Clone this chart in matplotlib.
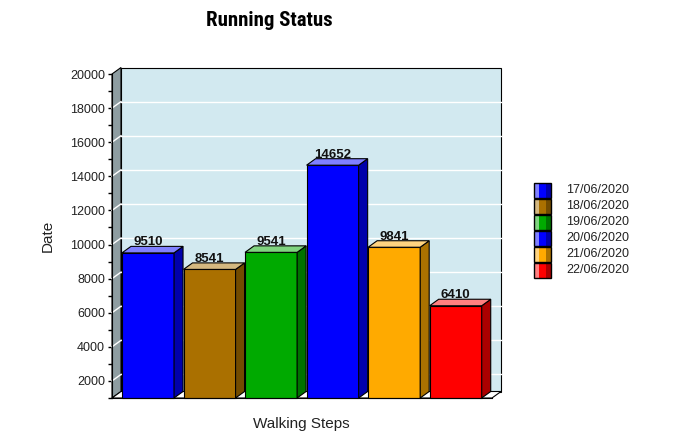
import numpy as np
import matplotlib
matplotlib.use('Agg')
import matplotlib.pyplot as plt
from matplotlib.patches import Polygon, Rectangle
from matplotlib.colors import to_rgb
from matplotlib import font_manager

# data
dates = ['17/06/2020', '18/06/2020', '19/06/2020', '20/06/2020', '21/06/2020', '22/06/2020']
steps = [9510, 8541, 9541, 14652, 9841, 6410]
colors = ['#0000FF', '#AA7000', '#00AA00', '#0000FF', '#FFAA00', '#FF0000']
yticks = np.arange(2000, 20001, 2000)
yminor = np.arange(1000, 20001, 1000)

W, H = 690, 446
ymin, ymax = 1000, 20000
xlo, xhi = -0.585, 5.59
bw = 0.846
dpx, dpy = 9, 6.5  # depth in pixels

plt.rcParams['font.family'] = ['Liberation Sans', 'DejaVu Sans']

# condensed face for the title if one is installed
names = {f.name for f in font_manager.fontManager.ttflist}
cond = [n for n in ['Roboto Condensed', 'Liberation Sans Narrow', 'DejaVu Sans Condensed',
                    'Open Sans Condensed'] if n in names]
title_family = cond[:1] + ['DejaVu Sans']

fig = plt.figure(figsize=(W / 100, H / 100), dpi=100)
fig.patch.set_facecolor('white')
# front plane of the 3d box in pixels: x 112..492, y 74..398
ax = fig.add_axes([112 / W, 1 - 398 / H, 380 / W, 324 / H])
ax.set_xlim(xlo, xhi)
ax.set_ylim(ymin, ymax)
ax.set_facecolor('none')

# depth offsets in data units
ddx = dpx * (xhi - xlo) / 380
ddy = dpy * (ymax - ymin) / 324


def light(c, f=0.5):
    r = np.array(to_rgb(c))
    return tuple(r + (1 - r) * f)


def dark(c, f=0.67):
    return tuple(np.array(to_rgb(c)) * f)


def poly(pts, fc, ec='black', lw=0.8, z=1):
    ax.add_patch(Polygon(pts, closed=True, facecolor=fc, edgecolor=ec,
                         linewidth=lw, zorder=z, clip_on=False))


# back wall
poly([(xlo + ddx, ymin + ddy), (xhi + ddx, ymin + ddy),
      (xhi + ddx, ymax + ddy), (xlo + ddx, ymax + ddy)], '#D2E9F0', z=1)
# left wall
poly([(xlo, ymin), (xlo + ddx, ymin + ddy), (xlo + ddx, ymax + ddy), (xlo, ymax)],
     '#8E9DA1', z=1)
# floor
poly([(xlo, ymin), (xhi, ymin), (xhi + ddx, ymin + ddy), (xlo + ddx, ymin + ddy)],
     'white', z=1)

# grid lines
for v in yticks[:-1]:
    ax.plot([xlo + ddx, xhi + ddx], [v + ddy, v + ddy], color='white', lw=1,
            zorder=2, clip_on=False)
    ax.plot([xlo, xlo + ddx], [v, v + ddy], color='white', lw=1,
            zorder=2, clip_on=False)

# bars
for i, (v, c) in enumerate(zip(steps, colors)):
    x0, x1 = i - bw / 2, i + bw / 2
    poly([(x0, ymin), (x1, ymin), (x1, v), (x0, v)], c, z=3)
    poly([(x1, ymin), (x1 + ddx, ymin + ddy), (x1 + ddx, v + ddy), (x1, v)], dark(c), z=3)
    poly([(x0, v), (x1, v), (x1 + ddx, v + ddy), (x0 + ddx, v + ddy)], light(c), z=3)
    ax.text(i, v + ddy + 60, str(v), ha='center', va='baseline',
            fontsize=9.5, fontweight='bold', color='#111111', zorder=4)

# axes styling
for s in ['top', 'right']:
    ax.spines[s].set_visible(False)
ax.spines['left'].set_zorder(5)
ax.spines['bottom'].set_zorder(5)
ax.set_xticks([])
ax.set_yticks(yticks)
ax.set_yticks(yminor, minor=True)
ax.tick_params(axis='y', which='both', direction='out', length=3, width=1,
               labelsize=9, pad=2, labelcolor='#222222')
ax.set_ylabel('Date', fontsize=11, color='#222222', labelpad=10)
ax.yaxis.set_label_coords(-(112 - 55) / 380, (398 - 236) / 324)
fig.text(301 / W, 1 - 424 / H, 'Walking Steps', fontsize=11, color='#222222',
         ha='center', va='center')

fig.text(269 / W, 1 - 20 / H, 'Running Status', fontsize=15 if cond else 12,
         fontweight='heavy', family=title_family,
         ha='center', va='center', color='black')

# legend
for k, (d, c) in enumerate(zip(dates, colors)):
    yc = 190 + 16 * k
    y0 = 1 - (yc + 7.5) / H
    hh = 15 / H
    fig.add_artist(Rectangle((534 / W, y0), 5 / W, hh, facecolor=light(c), edgecolor='none'))
    fig.add_artist(Rectangle((539 / W, y0), 7 / W, hh, facecolor=c, edgecolor='none'))
    fig.add_artist(Rectangle((546 / W, y0), 5 / W, hh, facecolor=dark(c), edgecolor='none'))
    fig.add_artist(Rectangle((534 / W, y0), 17 / W, hh, facecolor='none',
                             edgecolor='black', linewidth=1))
    fig.text(566 / W, 1 - yc / H, d, fontsize=9, color='#222222', va='center', ha='left')

fig.savefig('out.png', dpi=100)
